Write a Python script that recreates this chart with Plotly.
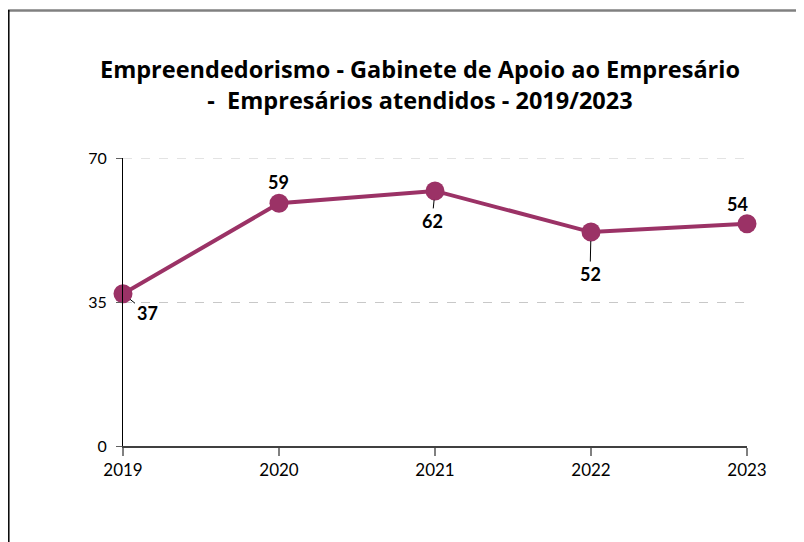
import plotly.graph_objects as go

years = [2019, 2020, 2021, 2022, 2023]
values = [37, 59, 62, 52, 54]
label_ax = [24, -1, -3, -1, -10]
label_ay = [19, -21, 30, 42, -20]
y_ticks = [0, 35, 70]

# page body has an 8px margin, so the figure is drawn 8px in from the corner
OFF = 8
W, H = 804 - OFF, 542 - OFF
L, R, T, B = 123 - OFF, 57, 158 - OFF, 96
pw, ph = W - L - R, H - T - B

color = "#9B3266"
font = "Lato"

fig = go.Figure()
fig.add_trace(go.Scatter(
    x=years, y=values, mode="lines+markers",
    line=dict(color=color, width=4),
    marker=dict(color=color, size=19),
    showlegend=False, hoverinfo="skip", cliponaxis=False,
))

for x, y, ax, ay in zip(years, values, label_ax, label_ay):
    fig.add_annotation(
        x=x, y=y, text=f"<b>{y}</b>", showarrow=True, arrowhead=0,
        arrowwidth=1, arrowcolor="black", ax=ax, ay=ay, standoff=9,
        font=dict(family=font, size=18, color="black"),
    )

# dashed gridline at the top value (plotly hides gridlines on the range edge)
fig.add_shape(type="line", xref="paper", yref="y", x0=0, x1=1,
              y0=y_ticks[-1], y1=y_ticks[-1],
              line=dict(color="#c8c8c8", width=1, dash="dash"))

# chart border (top gray, left black)
fig.add_shape(type="line", xref="paper", yref="paper",
              x0=(0 - L) / pw, x1=(W - L + 5) / pw,
              y0=(H - B - 2.5) / ph, y1=(H - B - 2.5) / ph,
              line=dict(color="#808080", width=2.5))
fig.add_shape(type="line", xref="paper", yref="paper",
              x0=(0.8 - L) / pw, x1=(0.8 - L) / pw,
              y0=(H - B - 2) / ph, y1=(H - B - H - 5) / ph,
              line=dict(color="black", width=1.5))

fig.update_layout(
    width=W, height=H,
    margin=dict(l=L, r=R, t=T, b=B),
    paper_bgcolor="white", plot_bgcolor="white",
    title=dict(
        text="<b>Empreendedorismo - Gabinete de Apoio ao Empresário<br>-  Empresários atendidos - 2019/2023</b>",
        x=(420 - OFF) / W, xanchor="center", y=1 - (78 - OFF) / H, yanchor="middle",
        font=dict(family="Open Sans", size=23.5, color="black"),
    ),
    font=dict(family=font, size=16, color="black"),
)
fig.update_xaxes(
    range=[2019, 2023], tickvals=years, ticktext=[str(y) for y in years],
    showgrid=False, zeroline=False, showline=True, linecolor="#404040", linewidth=1.5,
    ticks="outside", ticklen=8, tickcolor="#808080", tickwidth=1.5,
    tickfont=dict(family=font, size=17, color="black"),
)
fig.update_yaxes(
    range=[0, 70], tickvals=y_ticks, showgrid=True, gridcolor="#c8c8c8",
    griddash="dash", gridwidth=1, zeroline=False,
    showline=True, linecolor="black", linewidth=1.2,
    ticks="outside", ticklen=6, tickcolor="#606060", ticklabelstandoff=6,
    tickfont=dict(family=font, size=16, color="black"),
)

fig.write_html("out.html")
